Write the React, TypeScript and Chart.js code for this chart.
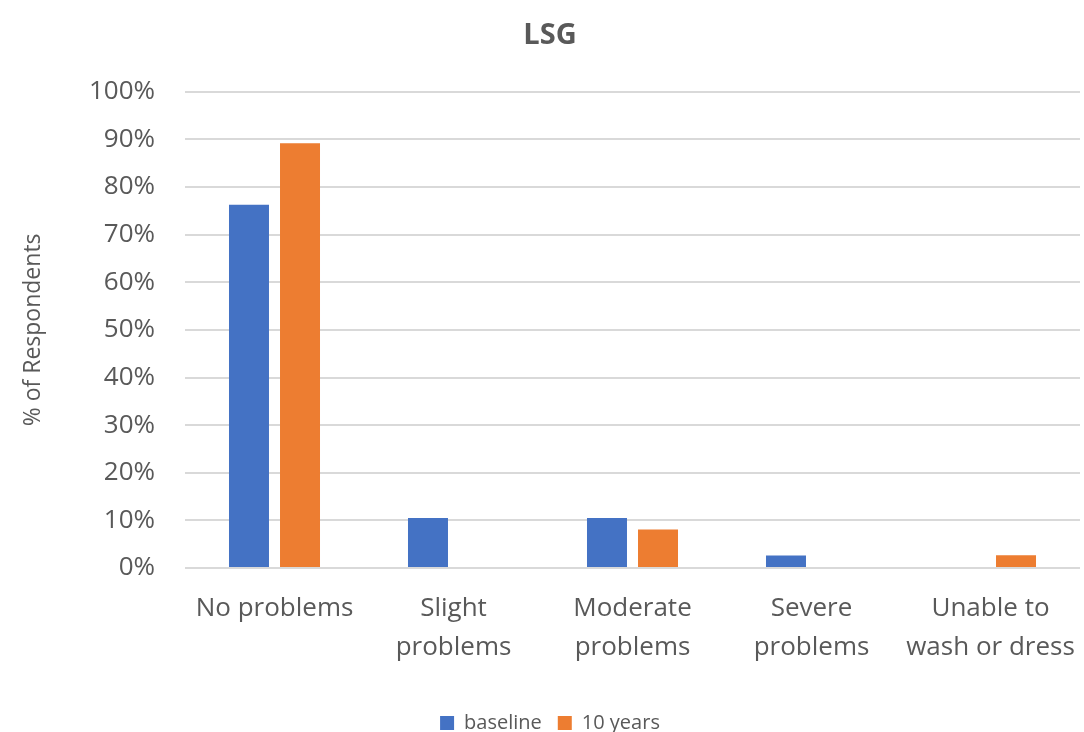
import React, { useEffect, useRef } from "react";
import { Chart, registerables } from "chart.js";

Chart.register(...registerables);

const categories: (string | string[])[] = [
  "No problems",
  ["Slight", "problems"],
  ["Moderate", "problems"],
  ["Severe", "problems"],
  ["Unable to", "wash or dress"],
];
const baselineValues = [76.3, 10.5, 10.5, 2.6, 0];
const tenYearValues = [89.2, 0, 8.1, 0, 2.7];
const seriesNames = ["baseline", "10 years"];
const chartTitle = "LSG";
const yAxisTitle = "% of Respondents";

const FONT = "'Open Sans', 'Noto Sans', sans-serif";
const TEXT = "#595959";

export default function App() {
  const ref = useRef<HTMLCanvasElement | null>(null);
  useEffect(() => {
    if (!ref.current) return;
    const chart = new Chart(ref.current, {
      type: "bar",
      data: {
        labels: categories,
        datasets: [
          {
            label: seriesNames[0],
            data: baselineValues,
            backgroundColor: "#4472C4",
            categoryPercentage: 0.57,
            barPercentage: 0.784,
          },
          {
            label: seriesNames[1],
            data: tenYearValues,
            backgroundColor: "#ED7D31",
            categoryPercentage: 0.57,
            barPercentage: 0.784,
          },
        ],
      },
      options: {
        animation: false,
        responsive: false,
        maintainAspectRatio: false,
        layout: { padding: { top: 0, right: 4, bottom: -11, left: 20 } },
        plugins: {
          title: {
            display: true,
            text: chartTitle,
            color: TEXT,
            font: { family: FONT, size: 29, weight: "bold" },
            padding: { top: 18, bottom: 39 },
          },
          legend: {
            position: "bottom",
            labels: {
              color: TEXT,
              font: { family: FONT, size: 20 },
              boxWidth: 14,
              boxHeight: 14,
              padding: 16,
            },
          },
          tooltip: { enabled: false },
        },
        scales: {
          x: {
            grid: { display: false, drawTicks: false },
            border: { display: false },
            ticks: {
              color: TEXT,
              font: { family: FONT, size: 26, lineHeight: 1.5 },
              padding: 21,
              maxRotation: 0,
              autoSkip: false,
            },
            afterFit: (s: any) => {
              s.height = 129;
              s.paddingRight = 0;
              s.paddingLeft = 0;
            },
          },
          y: {
            min: 0,
            max: 100,
            ticks: {
              stepSize: 10,
              color: TEXT,
              font: { family: FONT, size: 26 },
              padding: 30,
              callback: (v: any) => v + "%",
            },
            grid: { color: "#D9D9D9", lineWidth: 2, drawTicks: false },
            border: { display: false },
            title: {
              display: true,
              text: yAxisTitle,
              color: TEXT,
              font: { family: FONT, size: 23 },
              padding: { top: 0, bottom: 0 },
            },
            afterFit: (s: any) => {
              s.width = 165;
            },
          },
        },
      },
    });
    return () => chart.destroy();
  }, []);
  return (
    <div style={{ position: "absolute", left: 0, top: 0, width: 1084, height: 732, background: "#fff" }}>
      <canvas ref={ref} width={1084} height={732} style={{ display: "block" }} />
    </div>
  );
}
